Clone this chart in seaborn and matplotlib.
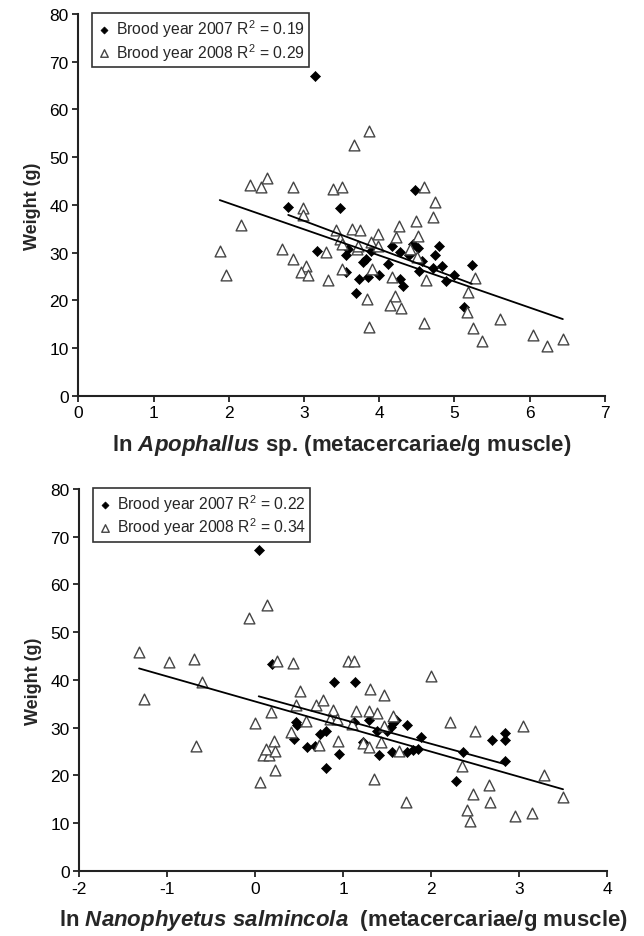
import matplotlib
matplotlib.use("Agg")
import matplotlib.pyplot as plt
import seaborn as sns
import pandas as pd

# ---- data ----
# top panel: ln Apophallus sp.
apo_x_2007 = [3.15, 2.79, 3.48, 3.17, 3.59, 3.56, 3.56, 3.73, 3.69, 3.79, 3.83, 3.85,
              3.89, 4.00, 4.11, 4.17, 4.28, 4.28, 4.32, 4.40, 4.45, 4.52, 4.57, 4.53,
              4.71, 4.74, 4.79, 4.83, 4.89, 4.99, 5.23, 5.12, 4.47]
apo_y_2007 = [67.1, 39.5, 39.3, 30.4, 30.8, 29.5, 26.0, 24.5, 21.5, 28.0, 28.6, 24.8,
              30.4, 25.3, 27.6, 31.4, 30.1, 24.5, 23.1, 29.4, 31.7, 31.0, 28.3, 26.2,
              26.7, 29.4, 31.4, 27.1, 24.0, 25.2, 27.5, 18.5, 43.1]
apo_x_2008 = [1.88, 1.96, 2.16, 2.28, 2.43, 2.51, 2.71, 2.86, 2.86, 2.98, 2.98, 3.02,
              2.96, 3.05, 3.29, 3.32, 3.38, 3.50, 3.67, 3.87, 3.42, 3.48, 3.50, 3.50,
              3.64, 3.75, 3.70, 3.84, 3.87, 3.72, 4.60, 4.74, 4.71, 4.49, 4.26, 4.22,
              4.51, 3.98, 3.89, 3.98, 3.90, 4.17, 4.41, 4.50, 4.62, 4.21, 4.14, 4.29,
              4.59, 5.27, 5.18, 5.16, 5.25, 5.36, 5.61, 6.05, 6.23, 6.44]
apo_y_2008 = [30.3, 25.3, 35.8, 44.2, 43.7, 45.7, 30.8, 43.7, 28.7, 39.3, 37.9, 27.1,
              26.0, 25.2, 30.1, 24.3, 43.3, 43.7, 52.6, 55.5, 34.7, 32.9, 31.7, 26.6,
              34.9, 34.8, 30.8, 20.3, 14.3, 31.4, 43.8, 40.7, 37.4, 36.7, 35.6, 33.2,
              33.4, 33.8, 32.3, 31.4, 26.6, 24.9, 30.8, 29.0, 24.3, 21.0, 19.0, 18.3,
              15.2, 24.7, 21.8, 17.5, 14.1, 11.4, 16.1, 12.7, 10.4, 11.9]

# bottom panel: ln Nanophyetus salmincola
nan_x_2007 = [0.04, 0.19, 0.90, 1.14, 0.46, 0.48, 0.44, 0.59, 0.68, 0.74, 0.81, 0.80,
              0.95, 1.12, 1.29, 1.38, 1.50, 1.54, 1.57, 1.60, 1.73, 1.89, 1.23, 1.41,
              1.56, 1.73, 1.79, 1.85, 2.36, 2.28, 2.69, 2.84, 2.84, 2.84]
nan_y_2007 = [67.2, 43.4, 39.5, 39.5, 31.1, 30.6, 27.6, 26.0, 26.2, 28.7, 29.4, 21.6,
              24.4, 31.1, 31.7, 29.4, 29.4, 30.1, 30.9, 31.7, 30.6, 28.0, 27.0, 24.3,
              24.9, 24.9, 25.4, 25.5, 24.9, 18.8, 27.4, 28.9, 27.4, 23.1]
nan_x_2008 = [-1.32, -1.26, -0.98, -0.70, -0.67, -0.61, -0.07, 0.13, 0.25, 0.43, 0.00,
              0.18, 0.05, 0.09, 0.16, 0.12, 0.21, 0.22, 0.23, 0.51, 0.46, 0.41, 0.58,
              0.69, 0.77, 0.72, 0.89, 0.85, 0.93, 0.94, 1.06, 1.12, 1.15, 2.00, 1.31,
              1.46, 1.29, 1.39, 1.57, 1.46, 1.10, 2.21, 2.50, 3.05, 1.23, 1.29, 1.43,
              1.63, 2.35, 1.35, 1.72, 2.48, 2.66, 2.67, 2.41, 2.44, 2.95, 3.15, 3.28, 3.50]
nan_y_2008 = [45.9, 36.0, 43.7, 44.3, 26.2, 39.6, 52.9, 55.7, 43.9, 43.6, 31.0,
              33.2, 18.6, 24.3, 24.3, 25.5, 27.3, 25.2, 21.2, 37.6, 34.8, 29.0, 31.4,
              34.8, 35.7, 26.4, 33.7, 31.8, 31.8, 27.2, 44.0, 44.0, 33.6, 40.9, 38.1,
              36.9, 33.4, 33.0, 32.4, 30.4, 30.8, 31.3, 29.4, 30.4, 26.7, 25.9, 27.0,
              25.1, 21.9, 19.3, 14.4, 16.1, 17.9, 14.4, 12.8, 10.4, 11.5, 12.1, 20.2, 15.4]

r2_apo = [0.19, 0.29]
r2_nan = [0.22, 0.34]
years = [2007, 2008]
apo_xticks = [0, 1, 2, 3, 4, 5, 6, 7]
nan_xticks = [-2, -1, 0, 1, 2, 3, 4]
yticks = [0, 10, 20, 30, 40, 50, 60, 70, 80]

sns.set_style("ticks")
plt.rcParams["font.family"] = ["Liberation Sans", "DejaVu Sans"]
plt.rcParams["axes.unicode_minus"] = False
plt.rcParams["mathtext.fontset"] = "custom"
plt.rcParams["mathtext.rm"] = "Liberation Sans"
plt.rcParams["mathtext.it"] = "Liberation Sans:italic:bold"
plt.rcParams["mathtext.bf"] = "Liberation Sans:bold"


def panel(ax, xs, ys, r2, xticks, xlabel):
    styles = [dict(marker="D", s=26, color="black", edgecolor="black", linewidth=0.5),
              dict(marker="^", s=60, facecolor="white", edgecolor="#454545", linewidth=1.0)]
    for x, y, r, yr, st in zip(xs, ys, r2, years, styles):
        df = pd.DataFrame({"x": x, "y": y})
        sns.scatterplot(data=df, x="x", y="y", ax=ax, zorder=3,
                        label=f"Brood year {yr} R$^2$ = {r:.2f}", **st)
    for x, y in zip(xs, ys):
        df = pd.DataFrame({"x": x, "y": y})
        sns.regplot(data=df, x="x", y="y", ax=ax, scatter=False, ci=None,
                    truncate=True, line_kws=dict(color="black", lw=1.3, zorder=4))
    ax.set_xlim(xticks[0], xticks[-1])
    ax.set_ylim(0, 80)
    ax.set_xticks(xticks)
    ax.set_yticks(yticks)
    ax.set_xlabel(xlabel, fontsize=16, fontweight="bold", labelpad=8)
    ax.set_ylabel("Weight (g)", fontsize=13, fontweight="bold", labelpad=6)
    ax.tick_params(direction="out", length=4, width=1.3, labelsize=12.5,
                   colors="#222222", labelcolor="black", pad=3)
    sns.despine(ax=ax)
    for sp in ("left", "bottom"):
        ax.spines[sp].set_linewidth(1.5)
        ax.spines[sp].set_color("#222222")
    ax.spines["left"].set_bounds(0, 80)
    ax.spines["bottom"].set_bounds(xticks[0], xticks[-1])
    leg = ax.legend(loc="upper left", bbox_to_anchor=(0.026, 1.003), borderaxespad=0,
                    frameon=True, fancybox=False, edgecolor="black", fontsize=11.3,
                    handletextpad=0.3, borderpad=0.3, labelspacing=0.1,
                    handlelength=0.9, markerscale=0.7)
    leg.get_frame().set_linewidth(1.2)


fig = plt.figure(figsize=(6.44, 9.37), dpi=100)
ax1 = fig.add_axes([0.1216, 0.5766, 0.8178, 0.4074])
ax2 = fig.add_axes([0.1231, 0.0694, 0.8195, 0.4077])

panel(ax1, [apo_x_2007, apo_x_2008], [apo_y_2007, apo_y_2008], r2_apo, apo_xticks,
      r"ln $\mathit{Apophallus}$ sp. (metacercariae/g muscle)")
panel(ax2, [nan_x_2007, nan_x_2008], [nan_y_2007, nan_y_2008], r2_nan, nan_xticks,
      r"ln $\mathit{Nanophyetus\ salmincola}$  (metacercariae/g muscle)")

fig.savefig("out.png", dpi=100)
